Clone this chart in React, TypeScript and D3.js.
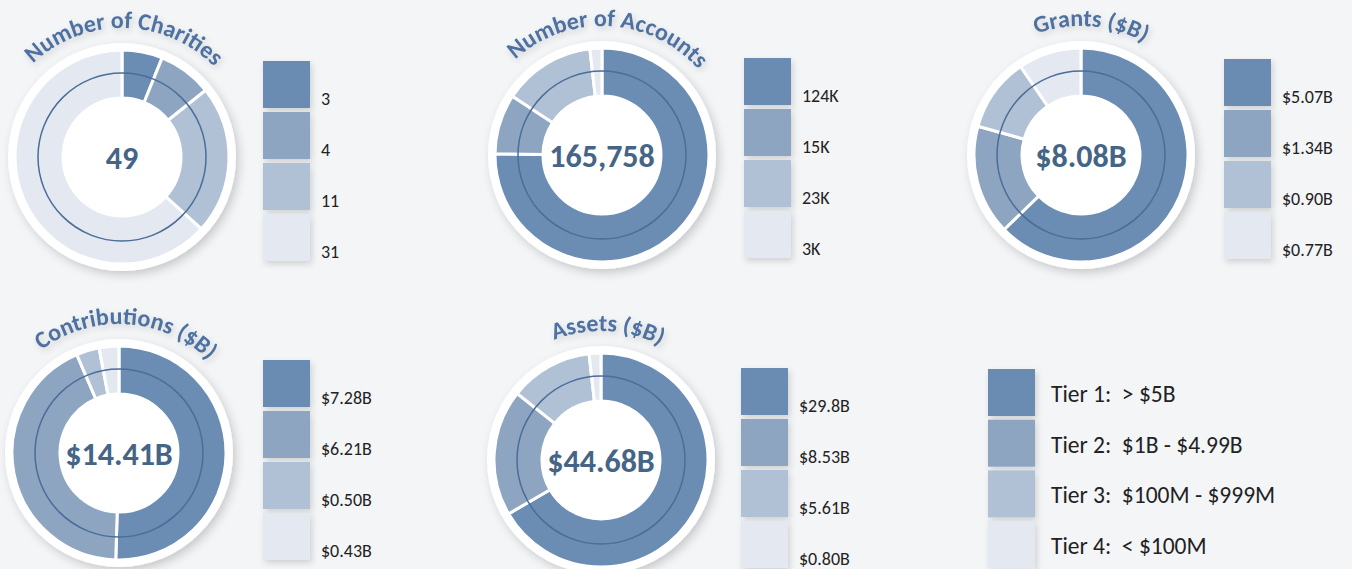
import { useRef, useEffect } from "react";
import * as d3 from "d3";

// tier colours, darkest (Tier 1) to lightest (Tier 4)
const tierColors = ["#6b8cb3", "#8ea5c2", "#b0c1d5", "#e4e9f1"];
const tierLabels = [
  "Tier 1:  > $5B",
  "Tier 2:  $1B - $4.99B",
  "Tier 3:  $100M - $999M",
  "Tier 4:  < $100M",
];

const titles = [
  "Number of Charities",
  "Number of Accounts",
  "Grants ($B)",
  "Contributions ($B)",
  "Assets ($B)",
];
const totals = ["49", "165,758", "$8.08B", "$14.41B", "$44.68B"];

const charities = [3, 4, 11, 31];
const charitiesLabels = ["3", "4", "11", "31"];
const accounts = [124, 15, 23, 3];
const accountsLabels = ["124K", "15K", "23K", "3K"];
const grants = [5.07, 1.34, 0.9, 0.77];
const grantsLabels = ["$5.07B", "$1.34B", "$0.90B", "$0.77B"];
const contributions = [7.28, 6.21, 0.5, 0.43];
const contributionsLabels = ["$7.28B", "$6.21B", "$0.50B", "$0.43B"];
const assets = [29.8, 8.53, 5.61, 0.8];
const assetsLabels = ["$29.8B", "$8.53B", "$5.61B", "$0.80B"];

const series = [charities, accounts, grants, contributions, assets];
const seriesLabels = [
  charitiesLabels,
  accountsLabels,
  grantsLabels,
  contributionsLabels,
  assetsLabels,
];

// panel layout: donut centre, legend top-left, title rotation (deg)
const panels = [
  { cx: 122, cy: 157, lx: 263, ly: 61, rot: 1 },
  { cx: 602, cy: 155, lx: 744, ly: 58, rot: 3 },
  { cx: 1081, cy: 155, lx: 1224, ly: 59, rot: 4.5 },
  { cx: 119, cy: 453, lx: 263, ly: 360, rot: 3.5 },
  { cx: 601, cy: 460, lx: 741, ly: 368, rot: 3 },
];

const FONT = "Carlito, Calibri, Lato, 'Open Sans', sans-serif";

function App() {
  const svgRef = useRef<SVGSVGElement>(null);

  useEffect(() => {
    const w = 1352;
    const h = 569;
    const svg = d3.select(svgRef.current).attr("width", w).attr("height", h);
    svg.selectAll("*").remove();

    // Filters
    const defs = svg.append("defs");
    const disc = defs
      .append("filter")
      .attr("id", "disc-shadow")
      .attr("x", "-20%")
      .attr("y", "-20%")
      .attr("width", "140%")
      .attr("height", "140%");
    disc
      .append("feDropShadow")
      .attr("dx", 3)
      .attr("dy", 4)
      .attr("stdDeviation", 5)
      .attr("flood-color", "#000")
      .attr("flood-opacity", 0.18);
    const soft = defs
      .append("filter")
      .attr("id", "soft-shadow")
      .attr("x", "-30%")
      .attr("y", "-30%")
      .attr("width", "160%")
      .attr("height", "160%");
    soft
      .append("feDropShadow")
      .attr("dx", 2)
      .attr("dy", 3)
      .attr("stdDeviation", 3)
      .attr("flood-color", "#000")
      .attr("flood-opacity", 0.15);

    svg
      .append("rect")
      .attr("width", w)
      .attr("height", h)
      .attr("fill", "#f4f5f7");

    const pie = d3
      .pie<number>()
      .sort(null)
      .value((d) => d);
    const arc = d3
      .arc<d3.PieArcDatum<number>>()
      .innerRadius(59)
      .outerRadius(107);

    panels.forEach((p, i) => {
      const g = svg
        .append("g")
        .attr("transform", `translate(${p.cx},${p.cy})`);

      // white plate
      g.append("circle")
        .attr("r", 114)
        .attr("fill", "#fff")
        .attr("filter", "url(#disc-shadow)");

      // tier segments
      g.selectAll("path.seg")
        .data(pie(series[i]))
        .join("path")
        .attr("class", "seg")
        .attr("d", arc)
        .attr("fill", (_d, j) => tierColors[j])
        .attr("stroke", "#fff")
        .attr("stroke-width", 3);

      // thin guide ring
      g.append("circle")
        .attr("r", 84)
        .attr("fill", "none")
        .attr("stroke", "#4a6d99")
        .attr("stroke-width", 1.5);

      // total in the middle
      g.append("text")
        .attr("text-anchor", "middle")
        .attr("dominant-baseline", "central")
        .attr("y", 1)
        .style("font-family", FONT)
        .style("font-weight", "bold")
        .style("font-size", "32px")
        .attr("fill", "#456587")
        .text(totals[i]);

      // curved title
      const R = 129;
      const toRad = Math.PI / 180;
      const a0 = (-90 + p.rot) * toRad;
      const a1 = (90 + p.rot) * toRad;
      const x0 = R * Math.sin(a0);
      const y0 = -R * Math.cos(a0);
      const x1 = R * Math.sin(a1);
      const y1 = -R * Math.cos(a1);
      defs
        .append("path")
        .attr("id", `title-arc-${i}`)
        .attr("d", `M${p.cx + x0},${p.cy + y0} A${R},${R} 0 0 1 ${p.cx + x1},${p.cy + y1}`);
      svg
        .append("text")
        .style("font-family", FONT)
        .style("font-weight", "bold")
        .style("font-size", "24px")
        .attr("fill", "#4d72a2")
        .attr("filter", "url(#soft-shadow)")
        .append("textPath")
        .attr("href", `#title-arc-${i}`)
        .attr("startOffset", "50%")
        .attr("text-anchor", "middle")
        .text(titles[i]);

      // legend
      const lg = svg
        .append("g")
        .attr("transform", `translate(${p.lx},${p.ly})`);
      const y = d3.scaleBand<number>().domain([0, 1, 2, 3]).range([0, 51 * 4]);
      lg.selectAll("rect")
        .data(tierColors)
        .join("rect")
        .attr("x", 0)
        .attr("y", (_d, j) => y(j) as number)
        .attr("width", 47)
        .attr("height", 47)
        .attr("fill", (d) => d)
        .attr("filter", "url(#soft-shadow)");
      lg.selectAll("text")
        .data(seriesLabels[i])
        .join("text")
        .attr("x", 58)
        .attr("y", (_d, j) => (y(j) as number) + 44)
        .style("font-family", FONT)
        .style("font-size", "18px")
        .attr("fill", "#222")
        .text((d) => d);
    });

    // tier key
    const key = svg.append("g").attr("transform", "translate(988,369)");
    const ky = d3.scaleBand<number>().domain([0, 1, 2, 3]).range([0, 50.7 * 4]);
    key
      .selectAll("rect")
      .data(tierColors)
      .join("rect")
      .attr("y", (_d, j) => ky(j) as number)
      .attr("width", 47)
      .attr("height", 47)
      .attr("fill", (d) => d)
      .attr("filter", "url(#soft-shadow)");
    key
      .selectAll("text")
      .data(tierLabels)
      .join("text")
      .attr("x", 63)
      .attr("y", (_d, j) => (ky(j) as number) + 25)
      .attr("dominant-baseline", "central")
      .style("font-family", FONT)
      .style("font-size", "23.5px")
      .style("white-space", "pre")
      .attr("fill", "#222")
      .text((d) => d);
  }, []);

  return (
    <svg
      ref={svgRef}
      style={{ position: "absolute", left: 0, top: 0, display: "block" }}
    ></svg>
  );
}

export default App;
